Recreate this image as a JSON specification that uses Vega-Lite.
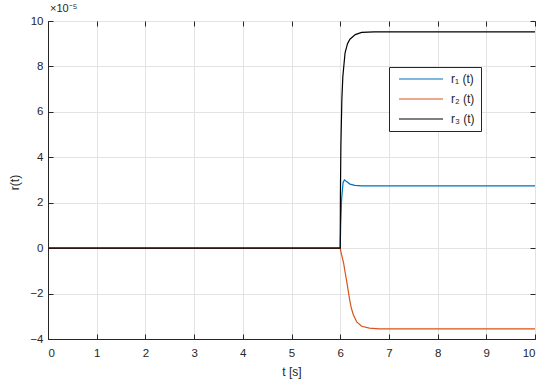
{
  "$schema": "https://vega.github.io/schema/vega-lite/v6.json",
  "width": 487,
  "height": 318,
  "autosize": {"type": "none"},
  "padding": {"left": 48, "top": 21, "right": 15, "bottom": 45},
  "background": "white",
  "config": {
    "font": "Liberation Sans",
    "view": {"stroke": "#262626", "strokeWidth": 1},
    "axis": {"labelFont": "Liberation Sans", "titleFont": "Liberation Sans", "labelColor": "#262626", "titleColor": "#262626", "titleFontWeight": "normal", "labelFontSize": 11.5, "titleFontSize": 12, "domainColor": "#262626", "tickColor": "#262626", "gridColor": "#e3e3e3", "gridOpacity": 1}
  },
  "title": {"text": "×10⁻⁵", "anchor": "start", "frame": "group", "fontSize": 11, "fontWeight": "normal", "color": "#262626", "font": "Liberation Sans", "offset": 1, "dx": 2},
  "data": {"values": [
    {"t": 0, "r": 0, "s": "r1"}, {"t": 6.0, "r": 0, "s": "r1"}, {"t": 6.01, "r": 1.0, "s": "r1"}, {"t": 6.03, "r": 2.2, "s": "r1"}, {"t": 6.06, "r": 2.9, "s": "r1"}, {"t": 6.09, "r": 3.0, "s": "r1"}, {"t": 6.13, "r": 2.93, "s": "r1"}, {"t": 6.2, "r": 2.82, "s": "r1"}, {"t": 6.3, "r": 2.76, "s": "r1"}, {"t": 6.45, "r": 2.74, "s": "r1"}, {"t": 10, "r": 2.74, "s": "r1"},
    {"t": 0, "r": 0, "s": "r2"}, {"t": 6.0, "r": 0, "s": "r2"}, {"t": 6.014, "r": -0.15, "s": "r2"}, {"t": 6.03, "r": -0.3, "s": "r2"}, {"t": 6.07, "r": -0.66, "s": "r2"}, {"t": 6.1, "r": -1.05, "s": "r2"}, {"t": 6.14, "r": -1.54, "s": "r2"}, {"t": 6.17, "r": -1.95, "s": "r2"}, {"t": 6.2, "r": -2.34, "s": "r2"}, {"t": 6.23, "r": -2.65, "s": "r2"}, {"t": 6.27, "r": -2.93, "s": "r2"}, {"t": 6.34, "r": -3.25, "s": "r2"}, {"t": 6.44, "r": -3.44, "s": "r2"}, {"t": 6.6, "r": -3.52, "s": "r2"}, {"t": 6.8, "r": -3.55, "s": "r2"}, {"t": 10, "r": -3.55, "s": "r2"},
    {"t": 0, "r": 0, "s": "r3"}, {"t": 6.0, "r": 0, "s": "r3"}, {"t": 6.005, "r": 2.5, "s": "r3"}, {"t": 6.014, "r": 4.5, "s": "r3"}, {"t": 6.034, "r": 6.55, "s": "r3"}, {"t": 6.054, "r": 7.55, "s": "r3"}, {"t": 6.1, "r": 8.6, "s": "r3"}, {"t": 6.15, "r": 9.0, "s": "r3"}, {"t": 6.2, "r": 9.2, "s": "r3"}, {"t": 6.31, "r": 9.4, "s": "r3"}, {"t": 6.44, "r": 9.5, "s": "r3"}, {"t": 6.7, "r": 9.52, "s": "r3"}, {"t": 10, "r": 9.52, "s": "r3"}
  ]},
  "resolve": {"axis": {"x": "independent", "y": "independent"}},
  "layer": [
    {
      "mark": {"type": "line", "strokeWidth": 1.2, "clip": true},
      "encoding": {
        "x": {"field": "t", "type": "quantitative", "scale": {"domain": [0, 10], "nice": false}, "axis": {"title": "t [s]", "values": [0,1,2,3,4,5,6,7,8,9,10], "tickSize": -5, "labelPadding": 13, "titlePadding": 8, "grid": true}},
        "y": {"field": "r", "type": "quantitative", "scale": {"domain": [-4, 10], "nice": false}, "axis": {"title": "r(t)", "values": [-4,-2,0,2,4,6,8,10], "tickSize": -5, "labelPadding": 10, "titleX": -27, "titleY": 161, "grid": true}},
        "color": {"field": "s", "type": "nominal", "scale": {"domain": ["r1", "r2", "r3"], "range": ["#0072BD", "#D95319", "#000000"]},
          "legend": {"title": null, "orient": "none", "legendX": 341, "legendY": 46, "symbolType": "M-1,0H21", "symbolSize": 16, "symbolStrokeWidth": 1.2, "labelExpr": "datum.value == 'r1' ? 'r₁ (t)' : datum.value == 'r2' ? 'r₂ (t)' : 'r₃ (t)'", "labelFont": "Liberation Sans", "labelFontSize": 12, "labelColor": "#262626", "strokeColor": "#262626", "fillColor": "white", "padding": 6, "rowPadding": 8, "labelOffset": 44}}
      }
    },
    {
      "mark": {"type": "point", "opacity": 0},
      "encoding": {
        "x": {"field": "t", "type": "quantitative", "scale": {"domain": [0, 10], "nice": false}, "axis": {"orient": "top", "title": null, "labels": false, "domain": false, "grid": false, "values": [0,1,2,3,4,5,6,7,8,9,10], "tickSize": -5}},
        "y": {"field": "r", "type": "quantitative", "scale": {"domain": [-4, 10], "nice": false}, "axis": {"orient": "right", "title": null, "labels": false, "domain": false, "grid": false, "values": [-4,-2,0,2,4,6,8,10], "tickSize": -5}}
      }
    }
  ]
}
